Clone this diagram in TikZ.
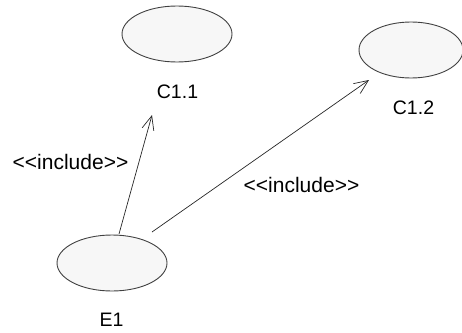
\documentclass[tikz,border=0pt]{standalone}
\usepackage{fontspec}
\setmainfont{Liberation Sans}[Ligatures=TeXOff]
\usetikzlibrary{shapes.geometric,arrows.meta}
\definecolor{ucfill}{HTML}{F7F7F7}
\definecolor{ucline}{HTML}{404040}
\begin{document}
\begin{tikzpicture}[x=1pt,y=-1pt,
  usecase/.style={draw=ucline,fill=ucfill,ellipse,line width=0.9pt,minimum width=110pt,minimum height=56pt,inner sep=0pt},
  lbl/.style={inner sep=0pt,font=\fontsize{19.5}{22}\selectfont},
  stereo/.style={inner sep=0pt,font=\fontsize{21}{24}\selectfont},
  incl/.style={draw=black!85,line width=0.7pt,-{Straight Barb[length=14pt,width=12pt,line width=0.7pt]}}]
\useasboundingbox (0,0) rectangle (462,332);
\node[usecase] (C11) at (177,34) {};
\node[usecase,minimum width=104pt] (C12) at (411,50) {};
\node[usecase] (E1) at (112,263) {};
\node[lbl] (C11l) at (177.5,92) {C1.1};
\node[lbl] (C12l) at (413.5,108) {C1.2};
\node[lbl] (E1l) at (111.5,319.5) {E1};
\node[stereo] (inc1) at (70.5,161.5) {<<include>>};
\node[stereo] (inc2) at (301.5,185) {<<include>>};
\coordinate (a1s) at (119,234);
\coordinate (a1e) at (152,115);
\coordinate (a2s) at (152,232);
\coordinate (a2e) at (369,80);
\draw[incl] (a1s) -- (a1e);
\draw[incl] (a2s) -- (a2e);
\end{tikzpicture}
\end{document}
